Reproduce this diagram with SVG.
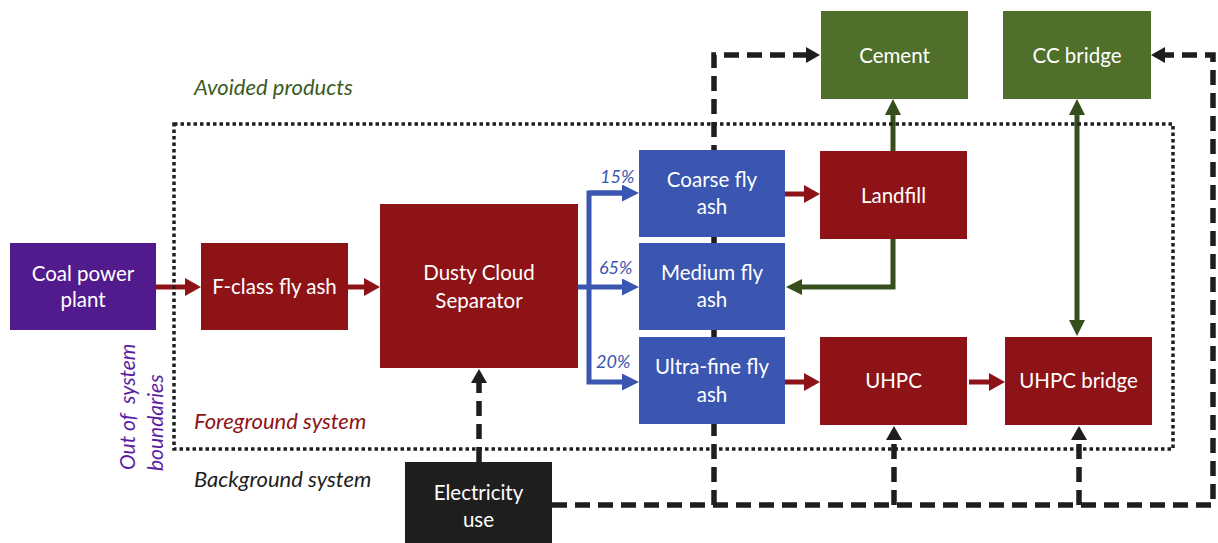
<svg xmlns="http://www.w3.org/2000/svg" width="1218" height="543" viewBox="0 0 1218 543">
  <style>
    .box-text { font-family: Lato, "Liberation Sans", sans-serif; font-size: 20.5px; fill: #ffffff; text-anchor: middle; }
    .label { font-family: Lato, "Liberation Sans", sans-serif; font-size: 22px; font-style: italic; }
    .vlabel { font-family: Lato, "Liberation Sans", sans-serif; font-size: 21px; font-style: italic; fill: #5b1ea0; }
    .pct { font-family: Lato, "Liberation Sans", sans-serif; font-size: 18px; font-style: italic; fill: #3a56b0; }
    .red { fill: #8e1316; }
    .blue { fill: #3a56b0; }
    .green { fill: #4f6f2b; }
    .purple { fill: #521b8d; }
    .black { fill: #1e1e1e; }
    .c-red { stroke: #8e1316; stroke-width: 5; fill: none; }
    .c-blue { stroke: #3a56b0; stroke-width: 5; fill: none; }
    .c-green { stroke: #364d1c; stroke-width: 5; fill: none; }
    .c-dash { stroke: #1e1e1e; stroke-width: 5.5; fill: none; stroke-dasharray: 15 8; }
    .boundary { stroke: #1e1e1e; stroke-width: 3.5; fill: none; stroke-dasharray: 3.5 3; }
  </style>
  <defs>
    <marker id="ah-red" markerUnits="userSpaceOnUse" markerWidth="16" markerHeight="18" refX="1" refY="9" orient="auto">
      <path d="M0,0 L16,9 L0,18 z" fill="#8e1316"/>
    </marker>
    <marker id="ah-blue" markerUnits="userSpaceOnUse" markerWidth="17" markerHeight="17" refX="1" refY="8.5" orient="auto">
      <path d="M0,0 L17,8.5 L0,17 z" fill="#3a56b0"/>
    </marker>
    <marker id="ah-green" markerUnits="userSpaceOnUse" markerWidth="16" markerHeight="16" refX="1" refY="8" orient="auto-start-reverse">
      <path d="M0,0 L16,8 L0,16 z" fill="#364d1c"/>
    </marker>
    <marker id="ah-black" markerUnits="userSpaceOnUse" markerWidth="14" markerHeight="16" refX="1" refY="8" orient="auto">
      <path d="M0,0 L14,8 L0,16 z" fill="#1e1e1e"/>
    </marker>
  </defs>

  <rect width="1218" height="543" fill="#ffffff"/>

  <!-- connectors -->
  <g id="connectors">
    <!-- material flow -->
    <line class="c-red" x1="156" y1="287" x2="186" y2="287" marker-end="url(#ah-red)"/>
    <line class="c-red" x1="348" y1="287" x2="365" y2="287" marker-end="url(#ah-red)"/>
    <line class="c-red" x1="785" y1="194" x2="805" y2="194" marker-end="url(#ah-red)"/>
    <line class="c-red" x1="785" y1="382" x2="805" y2="382" marker-end="url(#ah-red)"/>
    <line class="c-red" x1="969" y1="382" x2="990" y2="382" marker-end="url(#ah-red)"/>

    <!-- separator split -->
    <line class="c-blue" x1="578" y1="287" x2="623" y2="287" marker-end="url(#ah-blue)"/>
    <path class="c-blue" d="M623,193 H589 V382 H623" marker-end="url(#ah-blue)"/>
    <line class="c-blue" x1="589" y1="193" x2="623" y2="193" marker-end="url(#ah-blue)"/>

    <!-- avoided products -->
    <line class="c-green" x1="893" y1="151" x2="893" y2="114" marker-end="url(#ah-green)"/>
    <path class="c-green" d="M893,239 V287 H801" marker-end="url(#ah-green)"/>
    <line class="c-green" x1="1077" y1="114" x2="1077" y2="321" marker-start="url(#ah-green)" marker-end="url(#ah-green)"/>

    <!-- electricity supply -->
    <line class="c-dash" x1="479" y1="462" x2="479" y2="382" marker-end="url(#ah-black)"/>
    <path class="c-dash" d="M552,505 H1213 V55 H1164" marker-end="url(#ah-black)"/>
    <path class="c-dash" d="M714,505 V55 H807" marker-end="url(#ah-black)"/>
    <line class="c-dash" x1="894" y1="505" x2="894" y2="439" marker-end="url(#ah-black)"/>
    <line class="c-dash" x1="1079" y1="505" x2="1079" y2="439" marker-end="url(#ah-black)"/>
  </g>

  <!-- system boundary -->
  <rect id="boundary" class="boundary" x="174" y="124" width="999" height="325"/>

  <!-- region labels -->
  <g id="labels">
    <text class="label" x="194" y="95" fill="#3b5a1e">Avoided products</text>
    <text class="label" x="194" y="429" fill="#8e1316">Foreground system</text>
    <text class="label" x="194" y="487" fill="#1e1e1e">Background system</text>
    <text class="vlabel" transform="translate(135,470) rotate(-90)" xml:space="preserve">Out of  system</text>
    <text class="vlabel" transform="translate(163,471) rotate(-90)">boundaries</text>
    <text class="pct" x="600" y="183">15%</text>
    <text class="pct" x="599" y="274">65%</text>
    <text class="pct" x="596" y="368">20%</text>
  </g>

  <!-- nodes -->
  <g id="coal-power-plant">
    <rect class="purple" x="10" y="243" width="146" height="87"/>
    <text class="box-text" x="83" y="281">Coal power</text>
    <text class="box-text" x="83" y="307">plant</text>
  </g>
  <g id="f-class-fly-ash">
    <rect class="red" x="201" y="243" width="147" height="87"/>
    <text class="box-text" x="274.5" y="294">F-class fly ash</text>
  </g>
  <g id="dusty-cloud-separator">
    <rect class="red" x="380" y="204" width="198" height="164"/>
    <text class="box-text" x="479" y="280">Dusty Cloud</text>
    <text class="box-text" x="479" y="308">Separator</text>
  </g>
  <g id="coarse-fly-ash">
    <rect class="blue" x="639" y="150" width="146" height="87"/>
    <text class="box-text" x="712" y="187">Coarse fly</text>
    <text class="box-text" x="712" y="214">ash</text>
  </g>
  <g id="medium-fly-ash">
    <rect class="blue" x="639" y="243" width="146" height="87"/>
    <text class="box-text" x="712" y="280">Medium fly</text>
    <text class="box-text" x="712" y="307">ash</text>
  </g>
  <g id="ultra-fine-fly-ash">
    <rect class="blue" x="639" y="337" width="146" height="87"/>
    <text class="box-text" x="712" y="374">Ultra-fine fly</text>
    <text class="box-text" x="712" y="402">ash</text>
  </g>
  <g id="landfill">
    <rect class="red" x="820" y="151" width="147" height="88"/>
    <text class="box-text" x="893.5" y="203">Landfill</text>
  </g>
  <g id="cement">
    <rect class="green" x="821" y="11" width="147" height="88"/>
    <text class="box-text" x="894.5" y="63">Cement</text>
  </g>
  <g id="cc-bridge">
    <rect class="green" x="1003" y="11" width="148" height="88"/>
    <text class="box-text" x="1077" y="63">CC bridge</text>
  </g>
  <g id="uhpc">
    <rect class="red" x="820" y="337" width="147" height="88"/>
    <text class="box-text" x="893.5" y="388">UHPC</text>
  </g>
  <g id="uhpc-bridge">
    <rect class="red" x="1005" y="337" width="147" height="88"/>
    <text class="box-text" x="1078.5" y="388">UHPC bridge</text>
  </g>
  <g id="electricity-use">
    <rect class="black" x="405" y="462" width="147" height="81"/>
    <text class="box-text" x="478.5" y="500">Electricity</text>
    <text class="box-text" x="478.5" y="527">use</text>
  </g>
</svg>
